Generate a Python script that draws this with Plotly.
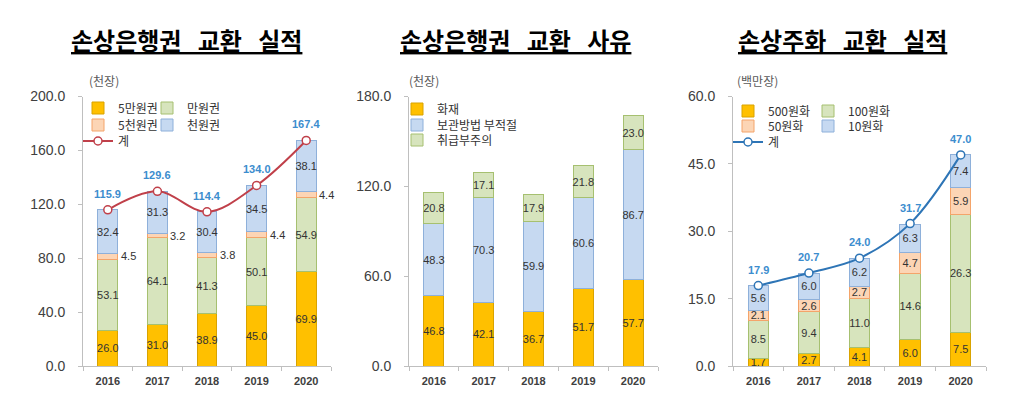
import plotly.graph_objects as go

years = ['2016', '2017', '2018', '2019', '2020']

# 손상은행권 교환 실적 (천장)
note_50k = [26.0, 31.0, 38.9, 45.0, 69.9]
note_10k = [53.1, 64.1, 41.3, 50.1, 54.9]
note_5k = [4.5, 3.2, 3.8, 4.4, 4.4]
note_1k = [32.4, 31.3, 30.4, 34.5, 38.1]
note_total = [115.9, 129.6, 114.4, 134.0, 167.4]

# 손상은행권 교환 사유 (천장)
fire = [46.8, 42.1, 36.7, 51.7, 57.7]
storage = [48.3, 70.3, 59.9, 60.6, 86.7]
handling = [20.8, 17.1, 17.9, 21.8, 23.0]

# 손상주화 교환 실적 (백만장)
coin_500 = [1.7, 2.7, 4.1, 6.0, 7.5]
coin_100 = [8.5, 9.4, 11.0, 14.6, 26.3]
coin_50 = [2.1, 2.6, 2.7, 4.7, 5.9]
coin_10 = [5.6, 6.0, 6.2, 6.3, 7.4]
coin_total = [17.9, 20.7, 24.0, 31.7, 47.0]

# colours
ORANGE = ('#FFC000', '#D9A300')
GREEN = ('#D7E4BD', '#A6C070')
PEACH = ('#FCD5B5', '#F4A46A')
BLUE = ('#C6D9F1', '#8EB0DA')
LABEL = '#333333'
TOTAL = '#3C8DCE'
KR = 'Noto Sans CJK KR'
NUM = 'Liberation Sans, Noto Sans CJK KR'

W, H = 1024, 412
OFF = 8  # the page body adds an 8px margin


def fx(x):
    return (x - OFF) / W


def fy(y):
    return 1 - (y - OFF) / H


fig = go.Figure()


def add_bar(name, values, color, axis, legend, show_text=True):
    fig.add_trace(go.Bar(
        x=years, y=values, name=name,
        marker=dict(color=color[0], line=dict(color=color[1], width=1)),
        text=values if show_text else None,
        texttemplate='%{y:.1f}' if show_text else None,
        textposition='inside', insidetextanchor='middle', textangle=0,
        textfont=dict(size=11, color=LABEL, family=NUM),
        xaxis='x' + axis, yaxis='y' + axis, legend=legend,
    ))


def add_total(values, color, axis, legend):
    fig.add_trace(go.Scatter(
        x=years, y=values, name='계', mode='lines+markers',
        line=dict(color=color, width=2, shape='spline'),
        marker=dict(size=8, color='white', line=dict(color=color, width=1.5)),
        xaxis='x' + axis, yaxis='y' + axis, legend=legend,
    ))
    # annotations on category axes take the category index
    for i, v in enumerate(values):
        fig.add_annotation(x=i, y=v, text='<b>%.1f</b>' % v, showarrow=False,
                           yshift=16, font=dict(size=11, color=TOTAL, family=NUM),
                           xref='x' + axis, yref='y' + axis)


# panel 1
add_bar('5만원권', note_50k, ORANGE, '', 'legend')
add_bar('만원권', note_10k, GREEN, '', 'legend2')
add_bar('5천원권', note_5k, PEACH, '', 'legend3', show_text=False)
add_bar('천원권', note_1k, BLUE, '', 'legend4')
add_total(note_total, '#C0404A', '', 'legend5')
for i in range(len(years)):
    mid = note_50k[i] + note_10k[i] + note_5k[i] / 2
    fig.add_annotation(x=i, y=mid, text='%.1f' % note_5k[i], showarrow=False,
                       xanchor='left', xshift=11, xref='x', yref='y',
                       font=dict(size=11, color=LABEL, family=NUM))

# panel 2
add_bar('화재', fire, ORANGE, '2', 'legend6')
add_bar('보관방법 부적절', storage, BLUE, '2', 'legend7')
add_bar('취급부주의', handling, GREEN, '2', 'legend8')

# panel 3
add_bar('500원화', coin_500, ORANGE, '3', 'legend9')
add_bar('100원화', coin_100, GREEN, '3', 'legend10')
add_bar('50원화', coin_50, PEACH, '3', 'legend11')
add_bar('10원화', coin_10, BLUE, '3', 'legend12')
add_total(coin_total, '#2E75B6', '3', 'legend13')

axis_common = dict(showline=True, linecolor='#BFBFBF', linewidth=1, showgrid=False,
                   zeroline=False, ticks='outside', tickcolor='#BFBFBF', ticklen=4,
                   automargin=False, fixedrange=True)

y_dom = [fy(366), fy(96.5)]
x_doms = [[fx(83), fx(331)], [fx(409), fx(658)], [fx(733), fx(986)]]
y_ranges = [[0, 200], [0, 180], [0, 60]]
y_dticks = [40, 60, 15]
suffix = ['', '2', '3']

layout = dict(
    width=W, height=H, margin=dict(l=0, r=0, t=0, b=0, autoexpand=False),
    paper_bgcolor='white', plot_bgcolor='white',
    barmode='stack', bargap=0.6, showlegend=True,
    uniformtext=dict(minsize=11, mode='show'),
    font=dict(family=NUM, color='#404040'),
)
for i, s in enumerate(suffix):
    layout['xaxis' + s] = dict(axis_common, domain=x_doms[i], anchor='y' + s,
                               type='category', tickson='boundaries', range=[-0.5, 4.5],
                               ticklabelstandoff=5,
                               tickfont=dict(size=11, color='#404040', family=NUM,
                                             weight='bold'))
    layout['yaxis' + s] = dict(axis_common, domain=y_dom, anchor='x' + s,
                               range=y_ranges[i], dtick=y_dticks[i], tickformat='.1f',
                               ticklabelstandoff=10,
                               tickfont=dict(size=14, color='#404040', family=NUM))
fig.update_layout(**layout)

# one legend per entry so the grid matches the original
legend_pos = [
    (78, 108), (147, 108), (78, 125), (147, 125), (78, 141),
    (397, 109), (397, 125), (397, 140),
    (728, 111), (808, 111), (728, 126), (808, 126), (728, 142),
]
for n, (px, py) in enumerate(legend_pos):
    name = 'legend' if n == 0 else 'legend%d' % (n + 1)
    fig.update_layout({name: dict(
        x=fx(px), y=fy(py), xanchor='left', yanchor='middle',
        bgcolor='rgba(0,0,0,0)', borderwidth=0, itemclick=False,
        font=dict(size=12, color='#333333', family=KR),
    )})

# titles and units
gap = '\u00a0' * 3
titles = [(gap.join(['손상은행권', '교환', '실적']), 186),
          (gap.join(['손상은행권', '교환', '사유']), 515),
          (gap.join(['손상주화', '교환', '실적']), 842)]
for text, cx in titles:
    fig.add_annotation(x=fx(cx), y=fy(40), xref='paper', yref='paper',
                       xanchor='center', yanchor='middle',
                       text='<b><u>%s</u></b>' % text, showarrow=False,
                       font=dict(size=24, color='black', family=KR))
units = [('(천장)', 87), ('(천장)', 407), ('(백만장)', 735)]
for text, lx in units:
    fig.add_annotation(x=fx(lx), y=fy(80), xref='paper', yref='paper',
                       xanchor='left', yanchor='middle',
                       text=text, showarrow=False,
                       font=dict(size=12, color='#595959', family=KR))

fig.write_html('out.html')
